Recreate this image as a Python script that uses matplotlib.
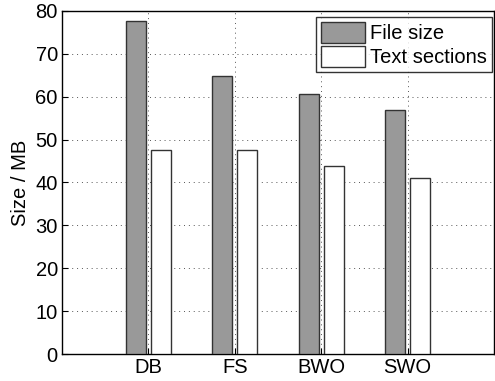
import matplotlib
matplotlib.use("Agg")
import matplotlib.pyplot as plt
import numpy as np

categories = ["DB", "FS", "BWO", "SWO"]
file_size = [77.6, 64.9, 60.6, 56.8]
text_sections = [47.5, 47.5, 43.8, 41.1]
yticks = [0, 10, 20, 30, 40, 50, 60, 70, 80]

plt.rcParams['font.family'] = ['Liberation Sans', 'DejaVu Sans']

fig = plt.figure(figsize=(4.95, 3.81), dpi=100)
ax = fig.add_axes([62/495, 1-354/381, 432/495, 343/381])

x = np.arange(1, len(categories)+1)
w = 0.23
ax.bar(x - 0.145, file_size, w, color='#999999', edgecolor='#333333', linewidth=1.0, label='File size', zorder=3)
ax.bar(x + 0.145, text_sections, w, color='white', edgecolor='#333333', linewidth=1.0, label='Text sections', zorder=3)

ax.set_xlim(0, 5)
ax.set_ylim(0, 80)
ax.set_xticks(x)
ax.set_xticklabels(categories)
ax.set_yticks(yticks)
ax.tick_params(direction='in', labelsize=14.5, length=4, width=0.8, top=False, right=False, pad=3)
ax.grid(True, linestyle=(0, (1, 4)), color='#555555', linewidth=0.7, zorder=0)
ax.set_axisbelow(True)
for s in ax.spines.values():
    s.set_linewidth(1.0)
ax.set_ylabel('Size / MB', fontsize=14.5, labelpad=4)

leg = ax.legend(loc='upper right', bbox_to_anchor=(492/495, 1-17/381), bbox_transform=fig.transFigure,
                fontsize=14.5, frameon=True, fancybox=False, edgecolor='black',
                borderpad=0.25, handlelength=2.2, handleheight=1.2, handletextpad=0.25, labelspacing=0.15,
                borderaxespad=0.0)
leg.get_frame().set_linewidth(1.0)

fig.savefig('out.png', dpi=100)
